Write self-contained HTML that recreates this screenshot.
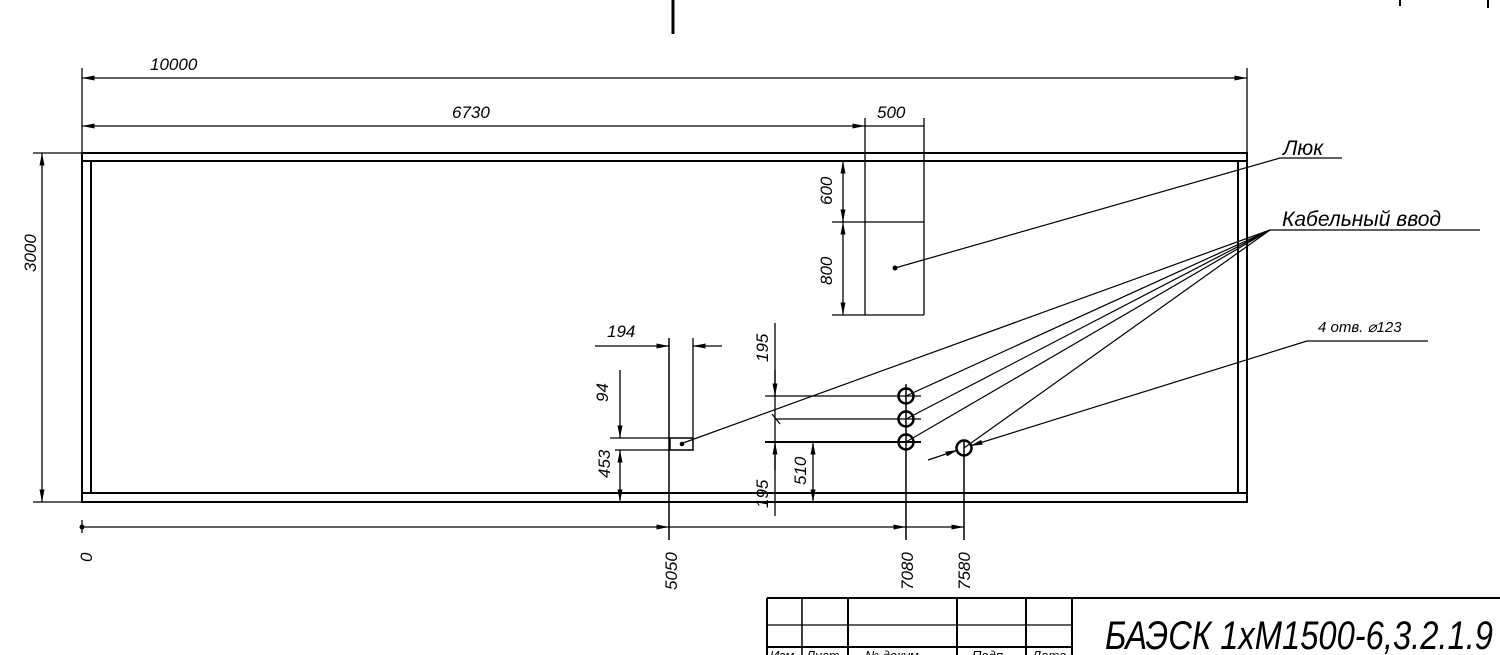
<!DOCTYPE html>
<html><head><meta charset="utf-8"><style>
html,body{margin:0;padding:0;background:#fff;}
svg{display:block}
text{font-family:"Liberation Sans",sans-serif;font-style:italic;fill:#000}
</style></head><body>
<svg width="1500" height="655" viewBox="0 0 1500 655" xmlns="http://www.w3.org/2000/svg">
<defs>
<marker id="a" viewBox="0 0 10 4" refX="10" refY="2" markerWidth="18" markerHeight="5" orient="auto-start-reverse" markerUnits="userSpaceOnUse"><path d="M0,0 L10,2 L0,4z" fill="#000"/></marker>
</defs>
<g stroke="#000" fill="none">
<line x1="673" y1="0" x2="673" y2="34" stroke-width="3"/>
<line x1="1400" y1="0" x2="1400" y2="6" stroke-width="2"/>
<line x1="1488" y1="0" x2="1488" y2="8" stroke-width="2"/>
<rect x="82" y="153" width="1165" height="349" stroke-width="2"/>
<line x1="82" y1="161" x2="1247" y2="161" stroke-width="2"/>
<line x1="82" y1="493" x2="1247" y2="493" stroke-width="2"/>
<line x1="91" y1="161" x2="91" y2="493" stroke-width="2"/>
<line x1="1238" y1="161" x2="1238" y2="493" stroke-width="2"/>
<line x1="82" y1="68" x2="82" y2="153" stroke-width="1.3"/>
<line x1="1247" y1="68" x2="1247" y2="153" stroke-width="1.3"/>
<line x1="82" y1="78" x2="1247" y2="78" stroke-width="1.3" marker-start="url(#a)" marker-end="url(#a)"/>
<line x1="82" y1="126" x2="865" y2="126" stroke-width="1.3" marker-start="url(#a)" marker-end="url(#a)"/>
<line x1="865" y1="126" x2="924" y2="126" stroke-width="1.3"/>
<line x1="865" y1="118" x2="865" y2="315" stroke-width="1.3"/>
<line x1="924" y1="118" x2="924" y2="315" stroke-width="1.3"/>
<line x1="865" y1="222" x2="924" y2="222" stroke-width="1.3"/>
<line x1="832" y1="315" x2="924" y2="315" stroke-width="1.3"/>
<line x1="832" y1="222" x2="865" y2="222" stroke-width="1.3"/>
<line x1="843" y1="161" x2="843" y2="222" stroke-width="1.3" marker-start="url(#a)" marker-end="url(#a)"/>
<line x1="843" y1="222" x2="843" y2="315" stroke-width="1.3" marker-start="url(#a)" marker-end="url(#a)"/>
<line x1="33" y1="153" x2="82" y2="153" stroke-width="1.3"/>
<line x1="33" y1="502" x2="82" y2="502" stroke-width="1.3"/>
<line x1="42" y1="153" x2="42" y2="502" stroke-width="1.3" marker-start="url(#a)" marker-end="url(#a)"/>
<line x1="1280" y1="158" x2="1342" y2="158" stroke-width="1.3"/>
<line x1="1280" y1="158" x2="895" y2="268" stroke-width="1.2"/>
<circle cx="895" cy="268" r="2" fill="#000"/>
<line x1="1270" y1="230" x2="1480" y2="230" stroke-width="1.3"/>
<line x1="1270" y1="230" x2="683" y2="443" stroke-width="1.2"/>
<line x1="1270" y1="230" x2="906" y2="396" stroke-width="1.2"/>
<line x1="1270" y1="230" x2="906" y2="419" stroke-width="1.2"/>
<line x1="1270" y1="230" x2="906" y2="442" stroke-width="1.2"/>
<line x1="1270" y1="230" x2="964" y2="448" stroke-width="1.2"/>
<line x1="1307" y1="341" x2="1428" y2="341" stroke-width="1.3"/>
<line x1="1307" y1="341" x2="970" y2="446" stroke-width="1.2" marker-end="url(#a)"/>
<line x1="928" y1="460" x2="958" y2="450" stroke-width="1.2" marker-end="url(#a)"/>
<circle cx="906" cy="396" r="7.5" stroke-width="2.5"/>
<circle cx="906" cy="419" r="7.5" stroke-width="2.5"/>
<circle cx="906" cy="442" r="7.5" stroke-width="2.5"/>
<circle cx="964" cy="448" r="7.5" stroke-width="2.5"/>
<line x1="906" y1="384" x2="906" y2="540" stroke-width="1.5"/>
<line x1="964" y1="440" x2="964" y2="540" stroke-width="1.5"/>
<line x1="765" y1="396" x2="921" y2="396" stroke-width="1.3"/>
<line x1="775" y1="419" x2="921" y2="419" stroke-width="1.3"/>
<line x1="765" y1="442" x2="921" y2="442" stroke-width="2"/>
<line x1="772" y1="414" x2="780" y2="424" stroke-width="1.2"/>
<line x1="775" y1="323" x2="775" y2="516" stroke-width="1.3"/>
<line x1="775" y1="370" x2="775" y2="396" stroke-width="1.3" marker-end="url(#a)"/>
<line x1="775" y1="470" x2="775" y2="442" stroke-width="1.3" marker-end="url(#a)"/>
<line x1="813" y1="442" x2="813" y2="502" stroke-width="1.3" marker-start="url(#a)" marker-end="url(#a)"/>
<rect x="670" y="438" width="23" height="12" stroke-width="1.5"/>
<circle cx="682" cy="444" r="1.8" fill="#000"/>
<line x1="669" y1="338" x2="669" y2="540" stroke-width="1.5"/>
<line x1="693" y1="338" x2="693" y2="438" stroke-width="1.3"/>
<line x1="595" y1="346" x2="669" y2="346" stroke-width="1.3" marker-end="url(#a)"/>
<line x1="722" y1="346" x2="693" y2="346" stroke-width="1.3" marker-end="url(#a)"/>
<line x1="610" y1="438" x2="670" y2="438" stroke-width="1.3"/>
<line x1="615" y1="450" x2="670" y2="450" stroke-width="1.3"/>
<line x1="620" y1="370" x2="620" y2="438" stroke-width="1.3" marker-end="url(#a)"/>
<line x1="620" y1="450" x2="620" y2="502" stroke-width="1.3" marker-start="url(#a)" marker-end="url(#a)"/>
<line x1="82" y1="520" x2="82" y2="533" stroke-width="1.3"/>
<circle cx="82" cy="527" r="2" fill="#000"/>
<line x1="82" y1="527" x2="669" y2="527" stroke-width="1.3" marker-end="url(#a)"/>
<line x1="669" y1="527" x2="906" y2="527" stroke-width="1.3" marker-end="url(#a)"/>
<line x1="906" y1="527" x2="964" y2="527" stroke-width="1.3" marker-end="url(#a)"/>
<line x1="767" y1="598" x2="1500" y2="598" stroke-width="2"/>
<line x1="767" y1="598" x2="767" y2="655" stroke-width="2"/>
<line x1="802" y1="598" x2="802" y2="655" stroke-width="1.5"/>
<line x1="848" y1="598" x2="848" y2="655" stroke-width="2"/>
<line x1="957" y1="598" x2="957" y2="655" stroke-width="2"/>
<line x1="1026" y1="598" x2="1026" y2="655" stroke-width="2"/>
<line x1="1072" y1="598" x2="1072" y2="655" stroke-width="2"/>
<line x1="767" y1="625" x2="1072" y2="625" stroke-width="1.3"/>
<line x1="767" y1="647" x2="1072" y2="647" stroke-width="2"/>
</g>
<g font-size="17">
<text x="150" y="70">10000</text>
<text x="452" y="118">6730</text>
<text x="877" y="118">500</text>
<text x="1283" y="155" font-size="21">Люк</text>
<text x="1282" y="226" font-size="21">Кабельный ввод</text>
<text x="1318" y="332" font-size="15">4 отв. ⌀123</text>
<text x="607" y="337">194</text>
<text transform="translate(36,272) rotate(-90)">3000</text>
<text transform="translate(832,205) rotate(-90)">600</text>
<text transform="translate(832,285) rotate(-90)">800</text>
<text transform="translate(608,402) rotate(-90)">94</text>
<text transform="translate(610,478) rotate(-90)">453</text>
<text transform="translate(768,362) rotate(-90)">195</text>
<text transform="translate(768,508) rotate(-90)">195</text>
<text transform="translate(806,485) rotate(-90)">510</text>
<text transform="translate(92,562) rotate(-90)">0</text>
<text transform="translate(677,590) rotate(-90)">5050</text>
<text transform="translate(913,590) rotate(-90)">7080</text>
<text transform="translate(970,590) rotate(-90)">7580</text>
<text x="770" y="660" font-size="13">Изм</text>
<text x="806" y="660" font-size="13">Лист</text>
<text x="865" y="660" font-size="13">№ докум.</text>
<text x="972" y="660" font-size="13">Подп.</text>
<text x="1032" y="660" font-size="13">Дата</text>
<text x="1105" y="649" font-size="40" transform="translate(1105,0) scale(0.8,1) translate(-1105,0)" textLength="485" lengthAdjust="spacingAndGlyphs">БАЭСК 1хМ1500-6,3.2.1.9</text>
</g>
</svg>
</body></html>
